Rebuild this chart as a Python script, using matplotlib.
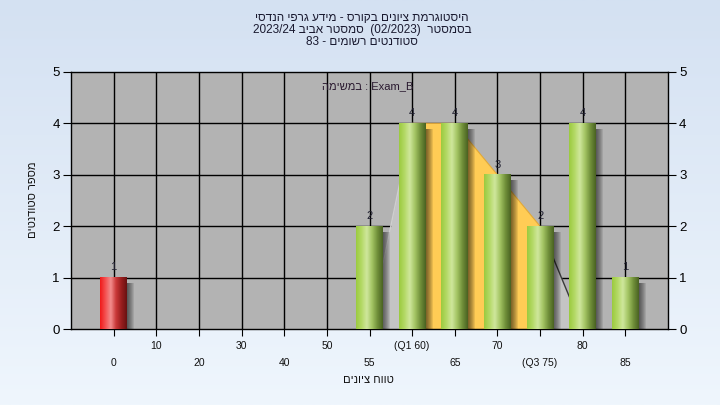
import re
import numpy as np
import matplotlib
matplotlib.use('Agg')
import matplotlib.pyplot as plt
from matplotlib.colors import LinearSegmentedColormap
from matplotlib.patches import Rectangle

plt.rcParams['font.family'] = ['Liberation Sans', 'DejaVu Sans']

# data
grades = ['0', '10', '20', '30', '40', '50', '55', '(Q1 60)', '65', '70', '(Q3 75)', '80', '85']
counts = [1, 0, 0, 0, 0, 0, 2, 4, 4, 3, 2, 4, 1]
failed = [True] + [False] * 12
curve_idx = [6, 7, 8, 9, 10, 11]
curve_val = [0, 4, 4, 3, 2, 0]
q1_idx, q3_idx = 7, 10

title_lines = ['היסטוגרמת ציונים בקורס - מידע גרפי הנדסי',
               'בסמסטר  (02/2023)  סמסטר אביב 2023/24',
               'סטודנטים רשומים - 83']
task_label = 'Exam_B : במשימה'
xlabel = 'טווח ציונים'
ylabel = 'מספר סטודנטים'


def rtl(s):
    # poor man's bidi: reverse, keep latin/digit runs, mirror brackets
    toks = re.findall(r'[0-9A-Za-z_/]+|.', s)
    mirror = {'(': ')', ')': '('}
    return ''.join(mirror.get(t, t) for t in reversed(toks))


fig = plt.figure(figsize=(7.2, 4.05), dpi=100)

# background gradient
bg = fig.add_axes([0, 0, 1, 1], zorder=-10)
grad = np.linspace(0, 1, 256).reshape(-1, 1)
bg_cmap = LinearSegmentedColormap.from_list('bg', ['#D4E1F2', '#EFF6FD'])
bg.imshow(grad, aspect='auto', cmap=bg_cmap, extent=[0, 1, 0, 1])
bg.axis('off')

ax = fig.add_axes([71 / 720, 1 - 329 / 405, 597 / 720, 257 / 405])
ax.set_facecolor('#B3B3B3')
ax.set_xlim(-1, 13)
ax.set_ylim(0, 5)

# grid
for i in range(len(grades)):
    ax.axvline(i, color='black', lw=1, zorder=1)
for v in range(1, 5):
    ax.axhline(v, color='black', lw=1, zorder=1)

# distribution polygon: light gray outside IQR, yellow inside
cx = np.array(curve_idx)
cy = np.array(curve_val)
ax.fill_between(cx[:2], cy[:2], color='#C4C4C4', zorder=2, lw=0)
ax.fill_between(cx[-2:], cy[-2:], color='#C4C4C4', zorder=2, lw=0)
m = (cx >= q1_idx) & (cx <= q3_idx)
ax.fill_between(cx[m], cy[m], color='#FFCC55', zorder=2, lw=0)
ax.plot(cx[m], cy[m], color='#E0A83A', lw=0.8, zorder=2)
ax.plot(cx[:2], cy[:2], color='#CFCFCF', lw=1, zorder=2)
ax.plot(cx[-2:], cy[-2:], color='#3A3A3A', lw=1, zorder=2)

green = LinearSegmentedColormap.from_list(
    'g', ['#9BCB3F', '#B4D966', '#CFE79C', '#A3C463', '#71903A', '#4A6322'])
red = LinearSegmentedColormap.from_list(
    'r', ['#F01A1A', '#F45252', '#F28C8C', '#C93838', '#981E1E', '#6A1212'])

w = 0.63
px = 14 / 597  # data units per pixel in x
py = 5 / 257
hgrad = np.linspace(0, 1, 64).reshape(1, -1)
for i, c in enumerate(counts):
    if c == 0:
        continue
    # soft shadow
    for k in range(1, 8):
        ax.add_patch(Rectangle((i - w / 2 + k * px, -0.05), w, c - 3 * py,
                               facecolor='black', alpha=0.09, lw=0, zorder=2.5))
    cmap = red if failed[i] else green
    ax.imshow(hgrad, aspect='auto', cmap=cmap, extent=[i - w / 2, i + w / 2, 0, c],
              interpolation='bilinear', zorder=3)
    ax.text(i, c + 0.1, str(c), ha='center', va='bottom', fontsize=8,
            color='#202030', zorder=4)

ax.set_xlim(-1, 13)
ax.set_ylim(0, 5)

# axes styling
for s in ax.spines.values():
    s.set_color('black')
    s.set_linewidth(1)
ax.set_yticks(range(6))
ax.tick_params(axis='y', which='both', left=True, right=True, labelleft=True,
               labelright=True, direction='out', length=6, labelsize=9.5,
               colors='black', pad=2)
ax.set_xticks(range(len(grades)))
ax.set_xticklabels([])
ax.tick_params(axis='x', direction='out', length=5, colors='black')

# two-row category labels
for i, g in enumerate(grades):
    y = -17 / 257 if i % 2 else -34 / 257
    ax.text(i, y, g, transform=ax.get_xaxis_transform(), ha='center', va='center',
            fontsize=7.5, color='#111111')

ax.text(368 / 720, 1 - 380 / 405, rtl(xlabel), transform=fig.transFigure,
        ha='center', va='center', fontsize=8, color='#111111')
ax.text(33 / 720, 1 - 200 / 405, rtl(ylabel), transform=fig.transFigure,
        ha='center', va='center', fontsize=8, color='#111111', rotation=90)

for k, line in enumerate(title_lines):
    fig.text(362 / 720, 1 - (18 + 12 * k) / 405, rtl(line), ha='center', va='center',
             fontsize=8.5, color='#1A1A30')

fig.text(368 / 720, 1 - 86 / 405, rtl(task_label), ha='center', va='center',
         fontsize=8, color='#2A1A30')

fig.savefig('out.png', dpi=100)
